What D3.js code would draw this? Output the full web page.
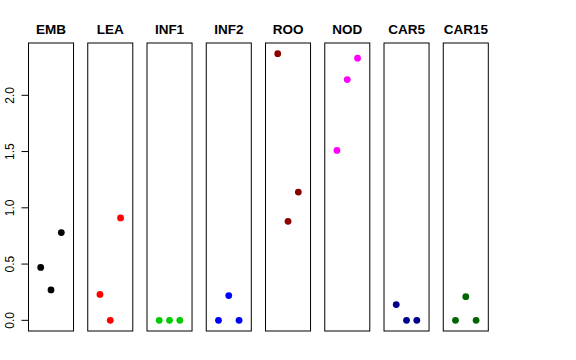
<!DOCTYPE html>
<html><head><meta charset="utf-8">
<script src="https://cdn.jsdelivr.net/npm/d3@7"></script>
<style>body{margin:0;background:#fff}svg{display:block}</style>
</head><body>
<svg id="c" width="576" height="360"></svg>
<script>
const categories = ["EMB","LEA","INF1","INF2","ROO","NOD","CAR5","CAR15"];
const colors = ["#000000","#FF0000","#00CD00","#0000FF","#8B0000","#FF00FF","#00008B","#006400"];
const EMB = [0.47, 0.27, 0.78];
const LEA = [0.23, 0.0, 0.91];
const INF1 = [0.0, 0.0, 0.0];
const INF2 = [0.0, 0.22, 0.0];
const ROO = [2.37, 0.88, 1.14];
const NOD = [1.51, 2.14, 2.33];
const CAR5 = [0.14, 0.0, 0.0];
const CAR15 = [0.0, 0.21, 0.0];
const yTicks = [0, 0.5, 1, 1.5, 2];
const series = [EMB, LEA, INF1, INF2, ROO, NOD, CAR5, CAR15];

const svg = d3.select("#c");
const all = series.flat();
const lo = d3.min(all), hi = d3.max(all), ext = (hi - lo) * 0.04;
const y = d3.scaleLinear().domain([lo - ext, hi + ext]).range([331, 43]);
const xb = d3.scaleBand().domain(categories).range([28.5, 488.3]).paddingInner(0.24).paddingOuter(0);

categories.forEach((c, i) => {
  const x0 = xb(c), w = xb.bandwidth(), cx = x0 + w / 2;
  const g = svg.append("g");
  g.append("rect").attr("x", x0).attr("y", 43).attr("width", w).attr("height", 288)
    .attr("fill", "none").attr("stroke", "#000").attr("stroke-width", 1);
  g.append("text").attr("x", cx).attr("y", 33.5).attr("text-anchor", "middle")
    .attr("font-family", "Liberation Sans, Arial, sans-serif").attr("font-weight", "bold")
    .attr("font-size", 13.5).text(c);
  const xp = d3.scalePoint().domain([0, 1, 2]).range([cx - 10.3, cx + 10.3]);
  g.selectAll("circle").data(series[i]).join("circle")
    .attr("cx", (d, j) => xp(j)).attr("cy", d => y(d)).attr("r", 3.4)
    .attr("fill", colors[i]);
});

// y axis
const ax = svg.append("g").attr("transform", "translate(28.5,0)");
ax.append("line").attr("x1", 0).attr("x2", 0).attr("y1", y(0)).attr("y2", y(2)).attr("stroke", "#000");
ax.selectAll("line.t").data(yTicks).join("line").attr("class", "t")
  .attr("x1", -7).attr("x2", 0).attr("y1", d => y(d)).attr("y2", d => y(d)).attr("stroke", "#000");
ax.selectAll("text").data(yTicks).join("text")
  .attr("transform", d => `translate(-15,${y(d)}) rotate(-90)`)
  .attr("text-anchor", "middle").attr("font-family", "Liberation Sans, Arial, sans-serif")
  .attr("font-size", 12).text(d3.format(".1f"));
</script>
</body></html>
